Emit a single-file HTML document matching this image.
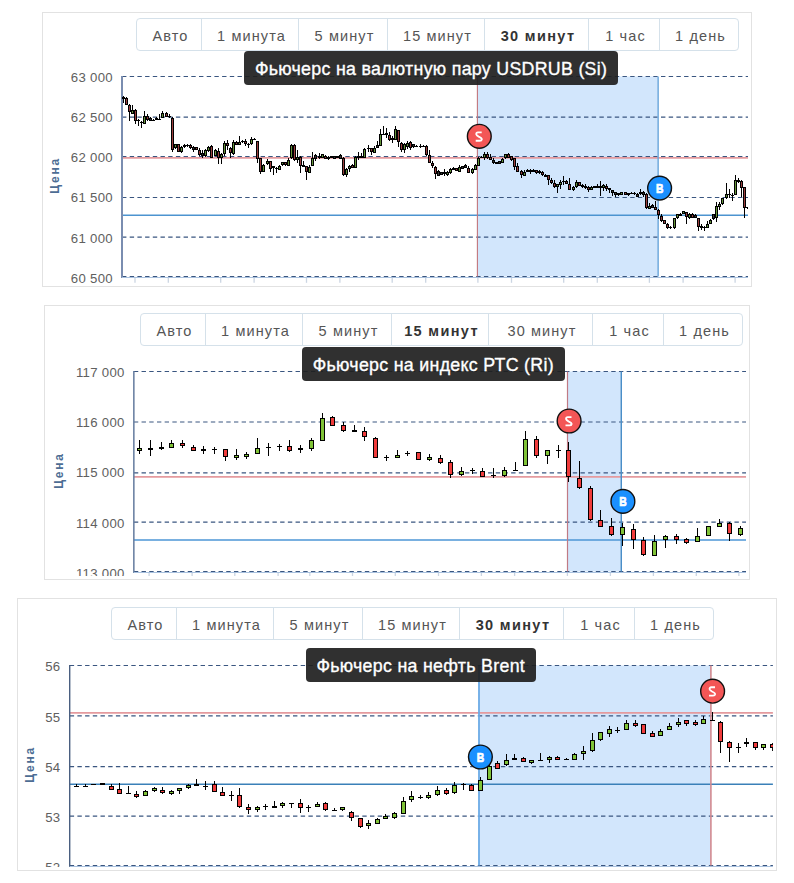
<!DOCTYPE html><html><head><meta charset="utf-8"><style>
*{margin:0;padding:0;box-sizing:border-box}
html,body{width:794px;height:883px;background:#fff;overflow:hidden;position:relative;font-family:"Liberation Sans", sans-serif}
.panel{position:absolute;border:1px solid #e2e2e2;background:#fff}
.grp{position:absolute;border:1px solid #d5e1ea;border-radius:4px;background:#fff;display:flex}
.btn{height:100%;border-right:1px solid #d5e1ea;color:#555;font-size:14.5px;letter-spacing:1.1px;display:flex;align-items:center;justify-content:center;padding:2px 0 0 3px;white-space:nowrap}
.btn:last-child{border-right:none}
.btn.sel{font-weight:bold;color:#333;letter-spacing:1.35px}
.ttl{position:absolute;background:rgba(30,30,30,0.92);border-radius:4px;color:#fff;font-size:17.8px;display:flex;align-items:center;justify-content:center;letter-spacing:0.3px;padding-top:2px;white-space:nowrap;-webkit-text-stroke:0.35px #fff}
svg{position:absolute;left:0;top:0}

</style></head><body>
<div class="panel" style="left:42px;top:12px;width:710px;height:275px"></div>
<div class="grp" style="left:136px;top:18px;width:603px;height:33px">
<div class="btn" style="width:65px">Авто</div>
<div class="btn" style="width:97px">1 минута</div>
<div class="btn" style="width:89px">5 минут</div>
<div class="btn" style="width:97px">15 минут</div>
<div class="btn sel" style="width:104px">30 минут</div>
<div class="btn" style="width:71px">1 час</div>
<div class="btn" style="width:78px">1 день</div>
</div>
<div class="panel" style="left:44px;top:305px;width:706px;height:275px"></div>
<div class="grp" style="left:140px;top:313px;width:603px;height:33px">
<div class="btn" style="width:65px">Авто</div>
<div class="btn" style="width:97px">1 минута</div>
<div class="btn" style="width:89px">5 минут</div>
<div class="btn sel" style="width:97px">15 минут</div>
<div class="btn" style="width:104px">30 минут</div>
<div class="btn" style="width:71px">1 час</div>
<div class="btn" style="width:78px">1 день</div>
</div>
<div class="panel" style="left:17px;top:598px;width:760px;height:273px"></div>
<div class="grp" style="left:111px;top:607px;width:603px;height:33px">
<div class="btn" style="width:65px">Авто</div>
<div class="btn" style="width:97px">1 минута</div>
<div class="btn" style="width:89px">5 минут</div>
<div class="btn" style="width:97px">15 минут</div>
<div class="btn sel" style="width:104px">30 минут</div>
<div class="btn" style="width:71px">1 час</div>
<div class="btn" style="width:78px">1 день</div>
</div>
<svg width="794" height="883" viewBox="0 0 794 883">
<defs><clipPath id="c0"><rect x="122" y="36.5" width="626" height="247.5"/></clipPath><clipPath id="cb0"><rect x="0" y="36.5" width="794" height="247.5"/></clipPath></defs>
<rect x="477.9" y="76.5" width="179.5" height="200.0" fill="#d2e6fc"/>
<line x1="122" y1="76.5" x2="748" y2="76.5" stroke="#3a5680" stroke-width="1.2" stroke-dasharray="4.4 3.3"/>
<line x1="122" y1="117.1" x2="748" y2="117.1" stroke="#3a5680" stroke-width="1.2" stroke-dasharray="4.4 3.3"/>
<line x1="122" y1="156.6" x2="748" y2="156.6" stroke="#3a5680" stroke-width="1.2" stroke-dasharray="4.4 3.3"/>
<line x1="122" y1="197.5" x2="748" y2="197.5" stroke="#3a5680" stroke-width="1.2" stroke-dasharray="4.4 3.3"/>
<line x1="122" y1="237.1" x2="748" y2="237.1" stroke="#3a5680" stroke-width="1.2" stroke-dasharray="4.4 3.3"/>
<line x1="122" y1="276.5" x2="748" y2="276.5" stroke="#3a5680" stroke-width="1.2" stroke-dasharray="4.4 3.3"/>
<line x1="135.0" y1="277.5" x2="135.0" y2="282.8" stroke="#cbd5e2" stroke-width="1.3" clip-path="url(#cb0)"/>
<line x1="220.7" y1="277.5" x2="220.7" y2="282.8" stroke="#cbd5e2" stroke-width="1.3" clip-path="url(#cb0)"/>
<line x1="306.5" y1="277.5" x2="306.5" y2="282.8" stroke="#cbd5e2" stroke-width="1.3" clip-path="url(#cb0)"/>
<line x1="392.2" y1="277.5" x2="392.2" y2="282.8" stroke="#cbd5e2" stroke-width="1.3" clip-path="url(#cb0)"/>
<line x1="477.9" y1="277.5" x2="477.9" y2="282.8" stroke="#cbd5e2" stroke-width="1.3" clip-path="url(#cb0)"/>
<line x1="563.7" y1="277.5" x2="563.7" y2="282.8" stroke="#cbd5e2" stroke-width="1.3" clip-path="url(#cb0)"/>
<line x1="649.4" y1="277.5" x2="649.4" y2="282.8" stroke="#cbd5e2" stroke-width="1.3" clip-path="url(#cb0)"/>
<line x1="735.1" y1="277.5" x2="735.1" y2="282.8" stroke="#cbd5e2" stroke-width="1.3" clip-path="url(#cb0)"/>
<line x1="168.3" y1="277.5" x2="168.3" y2="282.8" stroke="#cbd5e2" stroke-width="1.3" clip-path="url(#cb0)"/>
<line x1="254.1" y1="277.5" x2="254.1" y2="282.8" stroke="#cbd5e2" stroke-width="1.3" clip-path="url(#cb0)"/>
<line x1="339.9" y1="277.5" x2="339.9" y2="282.8" stroke="#cbd5e2" stroke-width="1.3" clip-path="url(#cb0)"/>
<line x1="425.7" y1="277.5" x2="425.7" y2="282.8" stroke="#cbd5e2" stroke-width="1.3" clip-path="url(#cb0)"/>
<line x1="511.5" y1="277.5" x2="511.5" y2="282.8" stroke="#cbd5e2" stroke-width="1.3" clip-path="url(#cb0)"/>
<line x1="597.3" y1="277.5" x2="597.3" y2="282.8" stroke="#cbd5e2" stroke-width="1.3" clip-path="url(#cb0)"/>
<line x1="683.1" y1="277.5" x2="683.1" y2="282.8" stroke="#cbd5e2" stroke-width="1.3" clip-path="url(#cb0)"/>
<line x1="122" y1="157.8" x2="748" y2="157.8" stroke="#e49a9e" stroke-width="1.8"/>
<line x1="122" y1="215.2" x2="748" y2="215.2" stroke="#4c94d0" stroke-width="1.5"/>
<line x1="477.4" y1="76.5" x2="477.4" y2="276.5" stroke="#c0747c" stroke-width="1.1"/>
<line x1="658.1" y1="76.5" x2="658.1" y2="276.5" stroke="#6aa6dc" stroke-width="1.5"/>
<line x1="122" y1="76.0" x2="122" y2="278.0" stroke="#7a8db0" stroke-width="2"/>
<line x1="122" y1="277.5" x2="748" y2="277.5" stroke="#a9c1de" stroke-width="1"/>
<g clip-path="url(#c0)">
<line x1="123.5" y1="96" x2="123.5" y2="103" stroke="#000" stroke-width="1"/>
<rect x="122" y="97" width="3" height="2" fill="#000"/>
<line x1="126.5" y1="97" x2="126.5" y2="105" stroke="#000" stroke-width="1"/>
<rect x="125.5" y="98.5" width="2" height="6" fill="#9a3d3d" stroke="#000" stroke-width="1"/>
<line x1="129.5" y1="104" x2="129.5" y2="121" stroke="#000" stroke-width="1"/>
<rect x="128.5" y="105.5" width="2" height="6" fill="#9a3d3d" stroke="#000" stroke-width="1"/>
<line x1="132.5" y1="105" x2="132.5" y2="114" stroke="#000" stroke-width="1"/>
<rect x="131.5" y="110.5" width="2" height="3" fill="#64953a" stroke="#000" stroke-width="1"/>
<line x1="135.5" y1="109" x2="135.5" y2="124" stroke="#000" stroke-width="1"/>
<rect x="134.5" y="110.5" width="2" height="10" fill="#9a3d3d" stroke="#000" stroke-width="1"/>
<line x1="138.5" y1="119" x2="138.5" y2="126" stroke="#000" stroke-width="1"/>
<rect x="137" y="120" width="3" height="1" fill="#000"/>
<line x1="141.5" y1="121" x2="141.5" y2="128" stroke="#000" stroke-width="1"/>
<rect x="140" y="122" width="3" height="1" fill="#000"/>
<line x1="144.5" y1="111" x2="144.5" y2="124" stroke="#000" stroke-width="1"/>
<rect x="143.5" y="116.5" width="2" height="7" fill="#64953a" stroke="#000" stroke-width="1"/>
<line x1="147.5" y1="114" x2="147.5" y2="121" stroke="#000" stroke-width="1"/>
<rect x="146.5" y="116.5" width="2" height="3" fill="#9a3d3d" stroke="#000" stroke-width="1"/>
<line x1="150.5" y1="117" x2="150.5" y2="121" stroke="#000" stroke-width="1"/>
<rect x="149.5" y="118.5" width="2" height="2" fill="#3a3a3a" stroke="#000" stroke-width="1"/>
<line x1="153.5" y1="119" x2="153.5" y2="121" stroke="#000" stroke-width="1"/>
<rect x="152" y="120" width="3" height="1" fill="#000"/>
<line x1="156.5" y1="117" x2="156.5" y2="120" stroke="#000" stroke-width="1"/>
<rect x="155" y="118" width="3" height="2" fill="#000"/>
<line x1="159.5" y1="114" x2="159.5" y2="120" stroke="#000" stroke-width="1"/>
<rect x="158" y="119" width="3" height="1" fill="#000"/>
<line x1="162.5" y1="111" x2="162.5" y2="118" stroke="#000" stroke-width="1"/>
<rect x="161.5" y="113.5" width="2" height="4" fill="#64953a" stroke="#000" stroke-width="1"/>
<line x1="166.5" y1="112" x2="166.5" y2="117" stroke="#000" stroke-width="1"/>
<rect x="165.5" y="113.5" width="2" height="3" fill="#9a3d3d" stroke="#000" stroke-width="1"/>
<line x1="169.5" y1="114" x2="169.5" y2="118" stroke="#000" stroke-width="1"/>
<rect x="168" y="116" width="3" height="1" fill="#000"/>
<line x1="172.5" y1="117" x2="172.5" y2="152" stroke="#000" stroke-width="1"/>
<rect x="171.5" y="118.5" width="2" height="31" fill="#9a3d3d" stroke="#000" stroke-width="1"/>
<line x1="175.5" y1="144" x2="175.5" y2="149" stroke="#000" stroke-width="1"/>
<rect x="174.5" y="144.5" width="2" height="3" fill="#64953a" stroke="#000" stroke-width="1"/>
<rect x="177.5" y="144.5" width="2" height="7" fill="#9a3d3d" stroke="#000" stroke-width="1"/>
<line x1="181.5" y1="146" x2="181.5" y2="153" stroke="#000" stroke-width="1"/>
<rect x="180.5" y="147.5" width="2" height="4" fill="#64953a" stroke="#000" stroke-width="1"/>
<line x1="184.5" y1="144" x2="184.5" y2="148" stroke="#000" stroke-width="1"/>
<rect x="183" y="145" width="3" height="2" fill="#000"/>
<line x1="187.5" y1="144" x2="187.5" y2="147" stroke="#000" stroke-width="1"/>
<rect x="186" y="145" width="3" height="1" fill="#000"/>
<line x1="190.5" y1="144" x2="190.5" y2="149" stroke="#000" stroke-width="1"/>
<rect x="189.5" y="145.5" width="2" height="2" fill="#9a3d3d" stroke="#000" stroke-width="1"/>
<line x1="193.5" y1="146" x2="193.5" y2="152" stroke="#000" stroke-width="1"/>
<rect x="192.5" y="147.5" width="2" height="2" fill="#3a3a3a" stroke="#000" stroke-width="1"/>
<rect x="195.5" y="147.5" width="2" height="2" fill="#9a3d3d" stroke="#000" stroke-width="1"/>
<line x1="199.5" y1="148" x2="199.5" y2="156" stroke="#000" stroke-width="1"/>
<rect x="198.5" y="150.5" width="2" height="4" fill="#9a3d3d" stroke="#000" stroke-width="1"/>
<line x1="202.5" y1="150" x2="202.5" y2="158" stroke="#000" stroke-width="1"/>
<rect x="201.5" y="153.5" width="2" height="2" fill="#3a3a3a" stroke="#000" stroke-width="1"/>
<line x1="205.5" y1="149" x2="205.5" y2="157" stroke="#000" stroke-width="1"/>
<rect x="204.5" y="150.5" width="2" height="5" fill="#64953a" stroke="#000" stroke-width="1"/>
<line x1="208.5" y1="146" x2="208.5" y2="152" stroke="#000" stroke-width="1"/>
<rect x="207.5" y="147.5" width="2" height="3" fill="#64953a" stroke="#000" stroke-width="1"/>
<line x1="211.5" y1="145" x2="211.5" y2="158" stroke="#000" stroke-width="1"/>
<rect x="210.5" y="146.5" width="2" height="11" fill="#9a3d3d" stroke="#000" stroke-width="1"/>
<line x1="215.5" y1="149" x2="215.5" y2="156" stroke="#000" stroke-width="1"/>
<rect x="214.5" y="150.5" width="2" height="5" fill="#64953a" stroke="#000" stroke-width="1"/>
<line x1="218.5" y1="148" x2="218.5" y2="164" stroke="#000" stroke-width="1"/>
<rect x="217.5" y="151.5" width="2" height="6" fill="#9a3d3d" stroke="#000" stroke-width="1"/>
<line x1="221.5" y1="153" x2="221.5" y2="164" stroke="#000" stroke-width="1"/>
<rect x="220.5" y="154.5" width="2" height="3" fill="#64953a" stroke="#000" stroke-width="1"/>
<line x1="224.5" y1="141" x2="224.5" y2="156" stroke="#000" stroke-width="1"/>
<rect x="223.5" y="143.5" width="2" height="10" fill="#64953a" stroke="#000" stroke-width="1"/>
<line x1="227.5" y1="140" x2="227.5" y2="150" stroke="#000" stroke-width="1"/>
<rect x="226.5" y="143.5" width="2" height="2" fill="#9a3d3d" stroke="#000" stroke-width="1"/>
<line x1="230.5" y1="147" x2="230.5" y2="158" stroke="#000" stroke-width="1"/>
<rect x="229.5" y="148.5" width="2" height="4" fill="#9a3d3d" stroke="#000" stroke-width="1"/>
<line x1="233.5" y1="140" x2="233.5" y2="155" stroke="#000" stroke-width="1"/>
<rect x="232.5" y="142.5" width="2" height="11" fill="#64953a" stroke="#000" stroke-width="1"/>
<line x1="236.5" y1="141" x2="236.5" y2="145" stroke="#000" stroke-width="1"/>
<rect x="235.5" y="142.5" width="2" height="2" fill="#9a3d3d" stroke="#000" stroke-width="1"/>
<line x1="239.5" y1="136" x2="239.5" y2="145" stroke="#000" stroke-width="1"/>
<rect x="238.5" y="142.5" width="2" height="2" fill="#64953a" stroke="#000" stroke-width="1"/>
<line x1="242.5" y1="140" x2="242.5" y2="143" stroke="#000" stroke-width="1"/>
<rect x="241" y="141" width="3" height="1" fill="#000"/>
<line x1="245.5" y1="139" x2="245.5" y2="146" stroke="#000" stroke-width="1"/>
<rect x="244.5" y="141.5" width="2" height="2" fill="#9a3d3d" stroke="#000" stroke-width="1"/>
<line x1="248.5" y1="143" x2="248.5" y2="148" stroke="#000" stroke-width="1"/>
<rect x="247" y="144" width="3" height="1" fill="#000"/>
<line x1="251.5" y1="137" x2="251.5" y2="145" stroke="#000" stroke-width="1"/>
<rect x="250.5" y="139.5" width="2" height="4" fill="#64953a" stroke="#000" stroke-width="1"/>
<line x1="254.5" y1="138" x2="254.5" y2="140" stroke="#000" stroke-width="1"/>
<rect x="253" y="139" width="3" height="1" fill="#000"/>
<line x1="257.5" y1="141" x2="257.5" y2="163" stroke="#000" stroke-width="1"/>
<rect x="256.5" y="141.5" width="2" height="17" fill="#9a3d3d" stroke="#000" stroke-width="1"/>
<line x1="260.5" y1="158" x2="260.5" y2="174" stroke="#000" stroke-width="1"/>
<rect x="259.5" y="158.5" width="2" height="13" fill="#9a3d3d" stroke="#000" stroke-width="1"/>
<line x1="263.5" y1="164" x2="263.5" y2="172" stroke="#000" stroke-width="1"/>
<rect x="262.5" y="165.5" width="2" height="6" fill="#64953a" stroke="#000" stroke-width="1"/>
<line x1="267.5" y1="159" x2="267.5" y2="165" stroke="#000" stroke-width="1"/>
<rect x="266.5" y="161.5" width="2" height="2" fill="#64953a" stroke="#000" stroke-width="1"/>
<line x1="270.5" y1="161" x2="270.5" y2="172" stroke="#000" stroke-width="1"/>
<rect x="269.5" y="161.5" width="2" height="7" fill="#9a3d3d" stroke="#000" stroke-width="1"/>
<line x1="273.5" y1="166" x2="273.5" y2="175" stroke="#000" stroke-width="1"/>
<rect x="272" y="166" width="3" height="2" fill="#000"/>
<line x1="276.5" y1="167" x2="276.5" y2="173" stroke="#000" stroke-width="1"/>
<rect x="275" y="168" width="3" height="1" fill="#000"/>
<line x1="279.5" y1="165" x2="279.5" y2="170" stroke="#000" stroke-width="1"/>
<rect x="278.5" y="166.5" width="2" height="3" fill="#64953a" stroke="#000" stroke-width="1"/>
<line x1="282.5" y1="162" x2="282.5" y2="166" stroke="#000" stroke-width="1"/>
<rect x="281.5" y="162.5" width="2" height="2" fill="#64953a" stroke="#000" stroke-width="1"/>
<line x1="285.5" y1="162" x2="285.5" y2="166" stroke="#000" stroke-width="1"/>
<rect x="284.5" y="162.5" width="2" height="2" fill="#9a3d3d" stroke="#000" stroke-width="1"/>
<line x1="288.5" y1="158" x2="288.5" y2="166" stroke="#000" stroke-width="1"/>
<rect x="287.5" y="160.5" width="2" height="5" fill="#64953a" stroke="#000" stroke-width="1"/>
<line x1="291.5" y1="144" x2="291.5" y2="159" stroke="#000" stroke-width="1"/>
<rect x="290.5" y="145.5" width="2" height="12" fill="#64953a" stroke="#000" stroke-width="1"/>
<line x1="294.5" y1="144" x2="294.5" y2="161" stroke="#000" stroke-width="1"/>
<rect x="293.5" y="145.5" width="2" height="14" fill="#9a3d3d" stroke="#000" stroke-width="1"/>
<line x1="297.5" y1="150" x2="297.5" y2="163" stroke="#000" stroke-width="1"/>
<rect x="296.5" y="157.5" width="2" height="2" fill="#64953a" stroke="#000" stroke-width="1"/>
<line x1="300.5" y1="156" x2="300.5" y2="173" stroke="#000" stroke-width="1"/>
<rect x="299.5" y="157.5" width="2" height="8" fill="#9a3d3d" stroke="#000" stroke-width="1"/>
<line x1="303.5" y1="161" x2="303.5" y2="167" stroke="#000" stroke-width="1"/>
<rect x="302" y="165" width="3" height="2" fill="#000"/>
<line x1="306.5" y1="166" x2="306.5" y2="180" stroke="#000" stroke-width="1"/>
<rect x="305.5" y="166.5" width="2" height="5" fill="#9a3d3d" stroke="#000" stroke-width="1"/>
<line x1="309.5" y1="165" x2="309.5" y2="173" stroke="#000" stroke-width="1"/>
<rect x="308.5" y="167.5" width="2" height="5" fill="#64953a" stroke="#000" stroke-width="1"/>
<line x1="312.5" y1="152" x2="312.5" y2="166" stroke="#000" stroke-width="1"/>
<rect x="311.5" y="158.5" width="2" height="7" fill="#64953a" stroke="#000" stroke-width="1"/>
<line x1="315.5" y1="154" x2="315.5" y2="161" stroke="#000" stroke-width="1"/>
<rect x="314.5" y="155.5" width="2" height="3" fill="#3a3a3a" stroke="#000" stroke-width="1"/>
<line x1="319.5" y1="153" x2="319.5" y2="159" stroke="#000" stroke-width="1"/>
<rect x="318" y="156" width="3" height="2" fill="#000"/>
<rect x="321.5" y="154.5" width="2" height="3" fill="#64953a" stroke="#000" stroke-width="1"/>
<line x1="325.5" y1="155" x2="325.5" y2="159" stroke="#000" stroke-width="1"/>
<rect x="324.5" y="156.5" width="2" height="2" fill="#9a3d3d" stroke="#000" stroke-width="1"/>
<line x1="328.5" y1="156" x2="328.5" y2="160" stroke="#000" stroke-width="1"/>
<rect x="327" y="157" width="3" height="2" fill="#000"/>
<rect x="330" y="156" width="3" height="2" fill="#000"/>
<rect x="333.5" y="156.5" width="2" height="2" fill="#3a3a3a" stroke="#000" stroke-width="1"/>
<rect x="336" y="156" width="3" height="2" fill="#000"/>
<line x1="340.5" y1="154" x2="340.5" y2="159" stroke="#000" stroke-width="1"/>
<rect x="339.5" y="155.5" width="2" height="3" fill="#3a3a3a" stroke="#000" stroke-width="1"/>
<line x1="343.5" y1="157" x2="343.5" y2="176" stroke="#000" stroke-width="1"/>
<rect x="342.5" y="158.5" width="2" height="16" fill="#9a3d3d" stroke="#000" stroke-width="1"/>
<line x1="346.5" y1="168" x2="346.5" y2="177" stroke="#000" stroke-width="1"/>
<rect x="345.5" y="169.5" width="2" height="5" fill="#64953a" stroke="#000" stroke-width="1"/>
<line x1="349.5" y1="165" x2="349.5" y2="172" stroke="#000" stroke-width="1"/>
<rect x="348.5" y="166.5" width="2" height="2" fill="#64953a" stroke="#000" stroke-width="1"/>
<line x1="352.5" y1="164" x2="352.5" y2="168" stroke="#000" stroke-width="1"/>
<rect x="351.5" y="165.5" width="2" height="2" fill="#9a3d3d" stroke="#000" stroke-width="1"/>
<line x1="355.5" y1="156" x2="355.5" y2="168" stroke="#000" stroke-width="1"/>
<rect x="354.5" y="157.5" width="2" height="10" fill="#64953a" stroke="#000" stroke-width="1"/>
<line x1="358.5" y1="152" x2="358.5" y2="160" stroke="#000" stroke-width="1"/>
<rect x="357" y="156" width="3" height="2" fill="#000"/>
<line x1="361.5" y1="153" x2="361.5" y2="158" stroke="#000" stroke-width="1"/>
<rect x="360" y="156" width="3" height="2" fill="#000"/>
<line x1="364.5" y1="148" x2="364.5" y2="158" stroke="#000" stroke-width="1"/>
<rect x="363.5" y="149.5" width="2" height="8" fill="#64953a" stroke="#000" stroke-width="1"/>
<line x1="368.5" y1="145" x2="368.5" y2="152" stroke="#000" stroke-width="1"/>
<rect x="367" y="148" width="3" height="1" fill="#000"/>
<line x1="371.5" y1="148" x2="371.5" y2="155" stroke="#000" stroke-width="1"/>
<rect x="370.5" y="148.5" width="2" height="3" fill="#9a3d3d" stroke="#000" stroke-width="1"/>
<line x1="374.5" y1="146" x2="374.5" y2="153" stroke="#000" stroke-width="1"/>
<rect x="373.5" y="148.5" width="2" height="4" fill="#64953a" stroke="#000" stroke-width="1"/>
<line x1="377.5" y1="141" x2="377.5" y2="148" stroke="#000" stroke-width="1"/>
<rect x="376.5" y="145.5" width="2" height="2" fill="#3a3a3a" stroke="#000" stroke-width="1"/>
<line x1="380.5" y1="129" x2="380.5" y2="146" stroke="#000" stroke-width="1"/>
<rect x="379.5" y="134.5" width="2" height="11" fill="#64953a" stroke="#000" stroke-width="1"/>
<line x1="383.5" y1="126" x2="383.5" y2="135" stroke="#000" stroke-width="1"/>
<rect x="382" y="134" width="3" height="1" fill="#000"/>
<line x1="386.5" y1="128" x2="386.5" y2="138" stroke="#000" stroke-width="1"/>
<rect x="385" y="133" width="3" height="2" fill="#000"/>
<line x1="389.5" y1="132" x2="389.5" y2="141" stroke="#000" stroke-width="1"/>
<rect x="388.5" y="135.5" width="2" height="4" fill="#9a3d3d" stroke="#000" stroke-width="1"/>
<line x1="392.5" y1="136" x2="392.5" y2="143" stroke="#000" stroke-width="1"/>
<rect x="391" y="138" width="3" height="2" fill="#000"/>
<line x1="395.5" y1="126" x2="395.5" y2="140" stroke="#000" stroke-width="1"/>
<rect x="394.5" y="129.5" width="2" height="10" fill="#64953a" stroke="#000" stroke-width="1"/>
<line x1="398.5" y1="130" x2="398.5" y2="147" stroke="#000" stroke-width="1"/>
<rect x="397.5" y="130.5" width="2" height="11" fill="#9a3d3d" stroke="#000" stroke-width="1"/>
<line x1="401.5" y1="142" x2="401.5" y2="152" stroke="#000" stroke-width="1"/>
<rect x="400.5" y="143.5" width="2" height="6" fill="#9a3d3d" stroke="#000" stroke-width="1"/>
<line x1="404.5" y1="143" x2="404.5" y2="153" stroke="#000" stroke-width="1"/>
<rect x="403.5" y="144.5" width="2" height="5" fill="#64953a" stroke="#000" stroke-width="1"/>
<line x1="407.5" y1="141" x2="407.5" y2="149" stroke="#000" stroke-width="1"/>
<rect x="406.5" y="143.5" width="2" height="3" fill="#64953a" stroke="#000" stroke-width="1"/>
<line x1="410.5" y1="141" x2="410.5" y2="150" stroke="#000" stroke-width="1"/>
<rect x="409.5" y="142.5" width="2" height="5" fill="#9a3d3d" stroke="#000" stroke-width="1"/>
<line x1="413.5" y1="144" x2="413.5" y2="148" stroke="#000" stroke-width="1"/>
<rect x="412.5" y="144.5" width="2" height="2" fill="#3a3a3a" stroke="#000" stroke-width="1"/>
<line x1="416.5" y1="145" x2="416.5" y2="147" stroke="#000" stroke-width="1"/>
<rect x="415" y="146" width="3" height="1" fill="#000"/>
<line x1="420.5" y1="144" x2="420.5" y2="148" stroke="#000" stroke-width="1"/>
<rect x="419" y="146" width="3" height="1" fill="#000"/>
<line x1="423.5" y1="145" x2="423.5" y2="147" stroke="#000" stroke-width="1"/>
<rect x="422" y="146" width="3" height="1" fill="#000"/>
<line x1="426.5" y1="145" x2="426.5" y2="156" stroke="#000" stroke-width="1"/>
<rect x="425.5" y="146.5" width="2" height="8" fill="#9a3d3d" stroke="#000" stroke-width="1"/>
<line x1="429.5" y1="150" x2="429.5" y2="163" stroke="#000" stroke-width="1"/>
<rect x="428.5" y="155.5" width="2" height="7" fill="#9a3d3d" stroke="#000" stroke-width="1"/>
<line x1="432.5" y1="161" x2="432.5" y2="168" stroke="#000" stroke-width="1"/>
<rect x="431.5" y="163.5" width="2" height="2" fill="#9a3d3d" stroke="#000" stroke-width="1"/>
<line x1="435.5" y1="166" x2="435.5" y2="179" stroke="#000" stroke-width="1"/>
<rect x="434.5" y="167.5" width="2" height="6" fill="#9a3d3d" stroke="#000" stroke-width="1"/>
<line x1="438.5" y1="170" x2="438.5" y2="176" stroke="#000" stroke-width="1"/>
<rect x="437.5" y="171.5" width="2" height="4" fill="#3a3a3a" stroke="#000" stroke-width="1"/>
<rect x="440.5" y="172.5" width="2" height="2" fill="#3a3a3a" stroke="#000" stroke-width="1"/>
<line x1="444.5" y1="169" x2="444.5" y2="176" stroke="#000" stroke-width="1"/>
<rect x="443" y="172" width="3" height="2" fill="#000"/>
<line x1="447.5" y1="171" x2="447.5" y2="176" stroke="#000" stroke-width="1"/>
<rect x="446.5" y="172.5" width="2" height="2" fill="#64953a" stroke="#000" stroke-width="1"/>
<line x1="450.5" y1="168" x2="450.5" y2="174" stroke="#000" stroke-width="1"/>
<rect x="449.5" y="169.5" width="2" height="3" fill="#64953a" stroke="#000" stroke-width="1"/>
<line x1="453.5" y1="167" x2="453.5" y2="170" stroke="#000" stroke-width="1"/>
<rect x="452" y="168" width="3" height="2" fill="#000"/>
<rect x="455.5" y="168.5" width="2" height="2" fill="#9a3d3d" stroke="#000" stroke-width="1"/>
<line x1="459.5" y1="165" x2="459.5" y2="172" stroke="#000" stroke-width="1"/>
<rect x="458.5" y="167.5" width="2" height="4" fill="#64953a" stroke="#000" stroke-width="1"/>
<rect x="461.5" y="166.5" width="2" height="2" fill="#3a3a3a" stroke="#000" stroke-width="1"/>
<line x1="465.5" y1="164" x2="465.5" y2="168" stroke="#000" stroke-width="1"/>
<rect x="464.5" y="165.5" width="2" height="2" fill="#3a3a3a" stroke="#000" stroke-width="1"/>
<line x1="468.5" y1="166" x2="468.5" y2="173" stroke="#000" stroke-width="1"/>
<rect x="467.5" y="168.5" width="2" height="4" fill="#9a3d3d" stroke="#000" stroke-width="1"/>
<line x1="472.5" y1="168" x2="472.5" y2="174" stroke="#000" stroke-width="1"/>
<rect x="471.5" y="169.5" width="2" height="3" fill="#64953a" stroke="#000" stroke-width="1"/>
<line x1="475.5" y1="164" x2="475.5" y2="170" stroke="#000" stroke-width="1"/>
<rect x="474.5" y="165.5" width="2" height="4" fill="#64953a" stroke="#000" stroke-width="1"/>
<line x1="478.5" y1="157" x2="478.5" y2="166" stroke="#000" stroke-width="1"/>
<rect x="477.5" y="158.5" width="2" height="7" fill="#64953a" stroke="#000" stroke-width="1"/>
<line x1="481.5" y1="156" x2="481.5" y2="158" stroke="#000" stroke-width="1"/>
<rect x="480" y="157" width="3" height="1" fill="#000"/>
<line x1="484.5" y1="152" x2="484.5" y2="160" stroke="#000" stroke-width="1"/>
<rect x="483.5" y="154.5" width="2" height="3" fill="#64953a" stroke="#000" stroke-width="1"/>
<line x1="487.5" y1="152" x2="487.5" y2="159" stroke="#000" stroke-width="1"/>
<rect x="486.5" y="154.5" width="2" height="3" fill="#9a3d3d" stroke="#000" stroke-width="1"/>
<line x1="490.5" y1="154" x2="490.5" y2="160" stroke="#000" stroke-width="1"/>
<rect x="489.5" y="157.5" width="2" height="2" fill="#9a3d3d" stroke="#000" stroke-width="1"/>
<line x1="493.5" y1="158" x2="493.5" y2="164" stroke="#000" stroke-width="1"/>
<rect x="492.5" y="160.5" width="2" height="2" fill="#3a3a3a" stroke="#000" stroke-width="1"/>
<rect x="495" y="162" width="3" height="2" fill="#000"/>
<rect x="498.5" y="161.5" width="2" height="2" fill="#3a3a3a" stroke="#000" stroke-width="1"/>
<line x1="502.5" y1="158" x2="502.5" y2="163" stroke="#000" stroke-width="1"/>
<rect x="501.5" y="159.5" width="2" height="3" fill="#64953a" stroke="#000" stroke-width="1"/>
<line x1="505.5" y1="154" x2="505.5" y2="159" stroke="#000" stroke-width="1"/>
<rect x="504.5" y="154.5" width="2" height="3" fill="#64953a" stroke="#000" stroke-width="1"/>
<line x1="508.5" y1="153" x2="508.5" y2="158" stroke="#000" stroke-width="1"/>
<rect x="507.5" y="154.5" width="2" height="3" fill="#9a3d3d" stroke="#000" stroke-width="1"/>
<line x1="511.5" y1="156" x2="511.5" y2="161" stroke="#000" stroke-width="1"/>
<rect x="510.5" y="156.5" width="2" height="3" fill="#9a3d3d" stroke="#000" stroke-width="1"/>
<line x1="514.5" y1="158" x2="514.5" y2="170" stroke="#000" stroke-width="1"/>
<rect x="513.5" y="158.5" width="2" height="8" fill="#9a3d3d" stroke="#000" stroke-width="1"/>
<line x1="517.5" y1="163" x2="517.5" y2="172" stroke="#000" stroke-width="1"/>
<rect x="516.5" y="166.5" width="2" height="5" fill="#9a3d3d" stroke="#000" stroke-width="1"/>
<line x1="521.5" y1="170" x2="521.5" y2="178" stroke="#000" stroke-width="1"/>
<rect x="520.5" y="171.5" width="2" height="3" fill="#9a3d3d" stroke="#000" stroke-width="1"/>
<line x1="524.5" y1="170" x2="524.5" y2="176" stroke="#000" stroke-width="1"/>
<rect x="523.5" y="172.5" width="2" height="3" fill="#64953a" stroke="#000" stroke-width="1"/>
<line x1="527.5" y1="169" x2="527.5" y2="172" stroke="#000" stroke-width="1"/>
<rect x="526" y="170" width="3" height="2" fill="#000"/>
<line x1="530.5" y1="169" x2="530.5" y2="174" stroke="#000" stroke-width="1"/>
<rect x="529" y="170" width="3" height="2" fill="#000"/>
<line x1="533.5" y1="169" x2="533.5" y2="172" stroke="#000" stroke-width="1"/>
<rect x="532" y="170" width="3" height="2" fill="#000"/>
<line x1="536.5" y1="170" x2="536.5" y2="174" stroke="#000" stroke-width="1"/>
<rect x="535.5" y="170.5" width="2" height="2" fill="#9a3d3d" stroke="#000" stroke-width="1"/>
<line x1="539.5" y1="170" x2="539.5" y2="174" stroke="#000" stroke-width="1"/>
<rect x="538" y="171" width="3" height="2" fill="#000"/>
<line x1="542.5" y1="171" x2="542.5" y2="176" stroke="#000" stroke-width="1"/>
<rect x="541.5" y="172.5" width="2" height="2" fill="#9a3d3d" stroke="#000" stroke-width="1"/>
<line x1="545.5" y1="174" x2="545.5" y2="177" stroke="#000" stroke-width="1"/>
<rect x="544" y="175" width="3" height="2" fill="#000"/>
<line x1="548.5" y1="175" x2="548.5" y2="185" stroke="#000" stroke-width="1"/>
<rect x="547.5" y="175.5" width="2" height="4" fill="#9a3d3d" stroke="#000" stroke-width="1"/>
<line x1="551.5" y1="178" x2="551.5" y2="184" stroke="#000" stroke-width="1"/>
<rect x="550.5" y="180.5" width="2" height="2" fill="#9a3d3d" stroke="#000" stroke-width="1"/>
<line x1="554.5" y1="180" x2="554.5" y2="188" stroke="#000" stroke-width="1"/>
<rect x="553.5" y="183.5" width="2" height="3" fill="#9a3d3d" stroke="#000" stroke-width="1"/>
<line x1="557.5" y1="184" x2="557.5" y2="193" stroke="#000" stroke-width="1"/>
<rect x="556.5" y="184.5" width="2" height="2" fill="#64953a" stroke="#000" stroke-width="1"/>
<line x1="560.5" y1="180" x2="560.5" y2="189" stroke="#000" stroke-width="1"/>
<rect x="559.5" y="182.5" width="2" height="2" fill="#64953a" stroke="#000" stroke-width="1"/>
<line x1="563.5" y1="176" x2="563.5" y2="185" stroke="#000" stroke-width="1"/>
<rect x="562" y="181" width="3" height="1" fill="#000"/>
<line x1="566.5" y1="180" x2="566.5" y2="184" stroke="#000" stroke-width="1"/>
<rect x="565.5" y="181.5" width="2" height="2" fill="#9a3d3d" stroke="#000" stroke-width="1"/>
<line x1="569.5" y1="178" x2="569.5" y2="190" stroke="#000" stroke-width="1"/>
<rect x="568.5" y="184.5" width="2" height="5" fill="#9a3d3d" stroke="#000" stroke-width="1"/>
<line x1="573.5" y1="186" x2="573.5" y2="191" stroke="#000" stroke-width="1"/>
<rect x="572.5" y="187.5" width="2" height="2" fill="#64953a" stroke="#000" stroke-width="1"/>
<line x1="576.5" y1="180" x2="576.5" y2="188" stroke="#000" stroke-width="1"/>
<rect x="575.5" y="182.5" width="2" height="4" fill="#64953a" stroke="#000" stroke-width="1"/>
<rect x="578.5" y="182.5" width="2" height="3" fill="#9a3d3d" stroke="#000" stroke-width="1"/>
<line x1="582.5" y1="184" x2="582.5" y2="188" stroke="#000" stroke-width="1"/>
<rect x="581" y="185" width="3" height="2" fill="#000"/>
<line x1="585.5" y1="184" x2="585.5" y2="189" stroke="#000" stroke-width="1"/>
<rect x="584" y="186" width="3" height="2" fill="#000"/>
<line x1="588.5" y1="186" x2="588.5" y2="192" stroke="#000" stroke-width="1"/>
<rect x="587.5" y="187.5" width="2" height="2" fill="#9a3d3d" stroke="#000" stroke-width="1"/>
<line x1="591.5" y1="186" x2="591.5" y2="190" stroke="#000" stroke-width="1"/>
<rect x="590.5" y="187.5" width="2" height="2" fill="#64953a" stroke="#000" stroke-width="1"/>
<rect x="593" y="186" width="3" height="2" fill="#000"/>
<line x1="597.5" y1="184" x2="597.5" y2="188" stroke="#000" stroke-width="1"/>
<rect x="596" y="186" width="3" height="2" fill="#000"/>
<line x1="600.5" y1="181" x2="600.5" y2="196" stroke="#000" stroke-width="1"/>
<rect x="599" y="186" width="3" height="2" fill="#000"/>
<line x1="603.5" y1="184" x2="603.5" y2="191" stroke="#000" stroke-width="1"/>
<rect x="602.5" y="185.5" width="2" height="2" fill="#64953a" stroke="#000" stroke-width="1"/>
<line x1="606.5" y1="184" x2="606.5" y2="191" stroke="#000" stroke-width="1"/>
<rect x="605.5" y="186.5" width="2" height="2" fill="#9a3d3d" stroke="#000" stroke-width="1"/>
<line x1="609.5" y1="188" x2="609.5" y2="193" stroke="#000" stroke-width="1"/>
<rect x="608" y="188" width="3" height="2" fill="#000"/>
<line x1="612.5" y1="190" x2="612.5" y2="196" stroke="#000" stroke-width="1"/>
<rect x="611.5" y="190.5" width="2" height="2" fill="#3a3a3a" stroke="#000" stroke-width="1"/>
<line x1="615.5" y1="192" x2="615.5" y2="197" stroke="#000" stroke-width="1"/>
<rect x="614.5" y="192.5" width="2" height="2" fill="#3a3a3a" stroke="#000" stroke-width="1"/>
<line x1="618.5" y1="193" x2="618.5" y2="196" stroke="#000" stroke-width="1"/>
<rect x="617" y="193" width="3" height="2" fill="#000"/>
<rect x="620.5" y="192.5" width="2" height="2" fill="#64953a" stroke="#000" stroke-width="1"/>
<rect x="624.5" y="192.5" width="2" height="2" fill="#9a3d3d" stroke="#000" stroke-width="1"/>
<line x1="628.5" y1="193" x2="628.5" y2="196" stroke="#000" stroke-width="1"/>
<rect x="627" y="193" width="3" height="2" fill="#000"/>
<line x1="631.5" y1="192" x2="631.5" y2="194" stroke="#000" stroke-width="1"/>
<rect x="630" y="193" width="3" height="1" fill="#000"/>
<line x1="634.5" y1="192" x2="634.5" y2="195" stroke="#000" stroke-width="1"/>
<rect x="633" y="193" width="3" height="1" fill="#000"/>
<line x1="637.5" y1="193" x2="637.5" y2="197" stroke="#000" stroke-width="1"/>
<rect x="636.5" y="194.5" width="2" height="2" fill="#3a3a3a" stroke="#000" stroke-width="1"/>
<line x1="640.5" y1="189" x2="640.5" y2="195" stroke="#000" stroke-width="1"/>
<rect x="639" y="192" width="3" height="2" fill="#000"/>
<line x1="643.5" y1="191" x2="643.5" y2="197" stroke="#000" stroke-width="1"/>
<rect x="642.5" y="192.5" width="2" height="2" fill="#3a3a3a" stroke="#000" stroke-width="1"/>
<line x1="646.5" y1="193" x2="646.5" y2="209" stroke="#000" stroke-width="1"/>
<rect x="645.5" y="194.5" width="2" height="13" fill="#9a3d3d" stroke="#000" stroke-width="1"/>
<line x1="649.5" y1="203" x2="649.5" y2="209" stroke="#000" stroke-width="1"/>
<rect x="648.5" y="206.5" width="2" height="2" fill="#64953a" stroke="#000" stroke-width="1"/>
<line x1="652.5" y1="204" x2="652.5" y2="208" stroke="#000" stroke-width="1"/>
<rect x="651.5" y="205.5" width="2" height="2" fill="#3a3a3a" stroke="#000" stroke-width="1"/>
<line x1="655.5" y1="201" x2="655.5" y2="210" stroke="#000" stroke-width="1"/>
<rect x="654.5" y="207.5" width="2" height="2" fill="#9a3d3d" stroke="#000" stroke-width="1"/>
<line x1="658.5" y1="209" x2="658.5" y2="219" stroke="#000" stroke-width="1"/>
<rect x="657.5" y="210.5" width="2" height="4" fill="#9a3d3d" stroke="#000" stroke-width="1"/>
<line x1="661.5" y1="214" x2="661.5" y2="222" stroke="#000" stroke-width="1"/>
<rect x="660.5" y="216.5" width="2" height="4" fill="#9a3d3d" stroke="#000" stroke-width="1"/>
<rect x="663.5" y="220.5" width="2" height="3" fill="#9a3d3d" stroke="#000" stroke-width="1"/>
<line x1="667.5" y1="223" x2="667.5" y2="229" stroke="#000" stroke-width="1"/>
<rect x="666.5" y="224.5" width="2" height="3" fill="#9a3d3d" stroke="#000" stroke-width="1"/>
<line x1="670.5" y1="226" x2="670.5" y2="229" stroke="#000" stroke-width="1"/>
<rect x="669" y="227" width="3" height="1" fill="#000"/>
<line x1="674.5" y1="218" x2="674.5" y2="229" stroke="#000" stroke-width="1"/>
<rect x="673.5" y="218.5" width="2" height="9" fill="#64953a" stroke="#000" stroke-width="1"/>
<line x1="677.5" y1="214" x2="677.5" y2="219" stroke="#000" stroke-width="1"/>
<rect x="676.5" y="214.5" width="2" height="3" fill="#64953a" stroke="#000" stroke-width="1"/>
<line x1="680.5" y1="213" x2="680.5" y2="216" stroke="#000" stroke-width="1"/>
<rect x="679" y="214" width="3" height="2" fill="#000"/>
<rect x="682.5" y="211.5" width="2" height="2" fill="#64953a" stroke="#000" stroke-width="1"/>
<line x1="686.5" y1="212" x2="686.5" y2="224" stroke="#000" stroke-width="1"/>
<rect x="685.5" y="212.5" width="2" height="4" fill="#9a3d3d" stroke="#000" stroke-width="1"/>
<line x1="689.5" y1="213" x2="689.5" y2="219" stroke="#000" stroke-width="1"/>
<rect x="688.5" y="214.5" width="2" height="3" fill="#64953a" stroke="#000" stroke-width="1"/>
<line x1="692.5" y1="213" x2="692.5" y2="218" stroke="#000" stroke-width="1"/>
<rect x="691.5" y="214.5" width="2" height="3" fill="#9a3d3d" stroke="#000" stroke-width="1"/>
<line x1="695.5" y1="214" x2="695.5" y2="218" stroke="#000" stroke-width="1"/>
<rect x="694.5" y="215.5" width="2" height="2" fill="#3a3a3a" stroke="#000" stroke-width="1"/>
<line x1="698.5" y1="218" x2="698.5" y2="231" stroke="#000" stroke-width="1"/>
<rect x="697.5" y="218.5" width="2" height="8" fill="#9a3d3d" stroke="#000" stroke-width="1"/>
<line x1="701.5" y1="224" x2="701.5" y2="230" stroke="#000" stroke-width="1"/>
<rect x="700" y="226" width="3" height="2" fill="#000"/>
<line x1="704.5" y1="226" x2="704.5" y2="231" stroke="#000" stroke-width="1"/>
<rect x="703" y="227" width="3" height="1" fill="#000"/>
<line x1="707.5" y1="221" x2="707.5" y2="228" stroke="#000" stroke-width="1"/>
<rect x="706.5" y="224.5" width="2" height="3" fill="#64953a" stroke="#000" stroke-width="1"/>
<line x1="710.5" y1="219" x2="710.5" y2="224" stroke="#000" stroke-width="1"/>
<rect x="709.5" y="220.5" width="2" height="3" fill="#64953a" stroke="#000" stroke-width="1"/>
<line x1="713.5" y1="214" x2="713.5" y2="220" stroke="#000" stroke-width="1"/>
<rect x="712.5" y="214.5" width="2" height="4" fill="#3a3a3a" stroke="#000" stroke-width="1"/>
<line x1="716.5" y1="202" x2="716.5" y2="222" stroke="#000" stroke-width="1"/>
<rect x="715.5" y="206.5" width="2" height="11" fill="#64953a" stroke="#000" stroke-width="1"/>
<line x1="719.5" y1="202" x2="719.5" y2="210" stroke="#000" stroke-width="1"/>
<rect x="718.5" y="204.5" width="2" height="2" fill="#64953a" stroke="#000" stroke-width="1"/>
<line x1="722.5" y1="198" x2="722.5" y2="205" stroke="#000" stroke-width="1"/>
<rect x="721.5" y="198.5" width="2" height="5" fill="#64953a" stroke="#000" stroke-width="1"/>
<line x1="726.5" y1="183" x2="726.5" y2="199" stroke="#000" stroke-width="1"/>
<rect x="725.5" y="194.5" width="2" height="3" fill="#64953a" stroke="#000" stroke-width="1"/>
<line x1="729.5" y1="189" x2="729.5" y2="198" stroke="#000" stroke-width="1"/>
<rect x="728" y="194" width="3" height="1" fill="#000"/>
<line x1="732.5" y1="193" x2="732.5" y2="201" stroke="#000" stroke-width="1"/>
<rect x="731" y="195" width="3" height="1" fill="#000"/>
<line x1="735.5" y1="175" x2="735.5" y2="195" stroke="#000" stroke-width="1"/>
<rect x="734.5" y="180.5" width="2" height="14" fill="#64953a" stroke="#000" stroke-width="1"/>
<line x1="738.5" y1="178" x2="738.5" y2="183" stroke="#000" stroke-width="1"/>
<rect x="737" y="180" width="3" height="2" fill="#000"/>
<line x1="741.5" y1="180" x2="741.5" y2="197" stroke="#000" stroke-width="1"/>
<rect x="740.5" y="181.5" width="2" height="6" fill="#9a3d3d" stroke="#000" stroke-width="1"/>
<line x1="744.5" y1="187" x2="744.5" y2="218" stroke="#000" stroke-width="1"/>
<rect x="743.5" y="187.5" width="2" height="20" fill="#9a3d3d" stroke="#000" stroke-width="1"/>
<line x1="747.5" y1="207" x2="747.5" y2="209" stroke="#000" stroke-width="1"/>
<rect x="746" y="207" width="3" height="1" fill="#000"/>
</g>
<g clip-path="url(#cb0)">
<text x="113.0" y="81.8" text-anchor="end" font-family='"Liberation Sans", sans-serif' font-size="13.2" letter-spacing="0.3" fill="#606060">63 000</text>
<text x="113.0" y="121.9" text-anchor="end" font-family='"Liberation Sans", sans-serif' font-size="13.2" letter-spacing="0.3" fill="#606060">62 500</text>
<text x="113.0" y="162.1" text-anchor="end" font-family='"Liberation Sans", sans-serif' font-size="13.2" letter-spacing="0.3" fill="#606060">62 000</text>
<text x="113.0" y="202.3" text-anchor="end" font-family='"Liberation Sans", sans-serif' font-size="13.2" letter-spacing="0.3" fill="#606060">61 500</text>
<text x="113.0" y="242.5" text-anchor="end" font-family='"Liberation Sans", sans-serif' font-size="13.2" letter-spacing="0.3" fill="#606060">61 000</text>
<text x="113.0" y="282.6" text-anchor="end" font-family='"Liberation Sans", sans-serif' font-size="13.2" letter-spacing="0.3" fill="#606060">60 500</text>
</g>
<text x="59.5" y="176.3" transform="rotate(-90 58.6 176.3)" text-anchor="middle" font-family='"Liberation Sans", sans-serif' font-size="12" letter-spacing="1.8" font-weight="bold" fill="#4d6d94">Цена</text>
<circle cx="479.3" cy="136.3" r="11.9" fill="#f35656" stroke="#111" stroke-width="1.4"/>
<path d="M481.7,132.4 L478.0,132.4 Q476.1,132.4 476.3,134.3 Q476.5,135.4 478.7,136.6 Q481.9,138.2 481.8,139.3 Q481.6,140.7 479.7,140.7 L475.7,140.7" fill="none" stroke="#fff" stroke-width="1.9"/>
<circle cx="659.6" cy="188.1" r="11.9" fill="#1a90ff" stroke="#111" stroke-width="1.4"/>
<text x="0" y="0" transform="translate(659.7,193.1) scale(0.82,1)" text-anchor="middle" font-family='"Liberation Sans", sans-serif' font-size="12.6" font-weight="bold" fill="#fff" stroke="#fff" stroke-width="0.7">B</text>
<defs><clipPath id="c1"><rect x="133.85" y="331.5" width="612.15" height="244.5"/></clipPath><clipPath id="cb1"><rect x="0" y="331.5" width="794" height="244.5"/></clipPath></defs>
<rect x="568" y="371.5" width="52.60000000000002" height="200.0" fill="#d2e6fc"/>
<line x1="133.85" y1="371.5" x2="746" y2="371.5" stroke="#3a5680" stroke-width="1.2" stroke-dasharray="4.4 3.3"/>
<line x1="133.85" y1="422.0" x2="746" y2="422.0" stroke="#3a5680" stroke-width="1.2" stroke-dasharray="4.4 3.3"/>
<line x1="133.85" y1="472.8" x2="746" y2="472.8" stroke="#3a5680" stroke-width="1.2" stroke-dasharray="4.4 3.3"/>
<line x1="133.85" y1="522.1" x2="746" y2="522.1" stroke="#3a5680" stroke-width="1.2" stroke-dasharray="4.4 3.3"/>
<line x1="133.85" y1="571.5" x2="746" y2="571.5" stroke="#3a5680" stroke-width="1.2" stroke-dasharray="4.4 3.3"/>
<line x1="149.1" y1="572.5" x2="149.1" y2="577.8" stroke="#cbd5e2" stroke-width="1.3" clip-path="url(#cb1)"/>
<line x1="192.1" y1="572.5" x2="192.1" y2="577.8" stroke="#cbd5e2" stroke-width="1.3" clip-path="url(#cb1)"/>
<line x1="234.8" y1="572.5" x2="234.8" y2="577.8" stroke="#cbd5e2" stroke-width="1.3" clip-path="url(#cb1)"/>
<line x1="278.1" y1="572.5" x2="278.1" y2="577.8" stroke="#cbd5e2" stroke-width="1.3" clip-path="url(#cb1)"/>
<line x1="309.8" y1="572.5" x2="309.8" y2="577.8" stroke="#cbd5e2" stroke-width="1.3" clip-path="url(#cb1)"/>
<line x1="352.5" y1="572.5" x2="352.5" y2="577.8" stroke="#cbd5e2" stroke-width="1.3" clip-path="url(#cb1)"/>
<line x1="395.3" y1="572.5" x2="395.3" y2="577.8" stroke="#cbd5e2" stroke-width="1.3" clip-path="url(#cb1)"/>
<line x1="438.5" y1="572.5" x2="438.5" y2="577.8" stroke="#cbd5e2" stroke-width="1.3" clip-path="url(#cb1)"/>
<line x1="481.4" y1="572.5" x2="481.4" y2="577.8" stroke="#cbd5e2" stroke-width="1.3" clip-path="url(#cb1)"/>
<line x1="514.6" y1="572.5" x2="514.6" y2="577.8" stroke="#cbd5e2" stroke-width="1.3" clip-path="url(#cb1)"/>
<line x1="567.4" y1="572.5" x2="567.4" y2="577.8" stroke="#cbd5e2" stroke-width="1.3" clip-path="url(#cb1)"/>
<line x1="610.4" y1="572.5" x2="610.4" y2="577.8" stroke="#cbd5e2" stroke-width="1.3" clip-path="url(#cb1)"/>
<line x1="653.4" y1="572.5" x2="653.4" y2="577.8" stroke="#cbd5e2" stroke-width="1.3" clip-path="url(#cb1)"/>
<line x1="696.3" y1="572.5" x2="696.3" y2="577.8" stroke="#cbd5e2" stroke-width="1.3" clip-path="url(#cb1)"/>
<line x1="738.9" y1="572.5" x2="738.9" y2="577.8" stroke="#cbd5e2" stroke-width="1.3" clip-path="url(#cb1)"/>
<line x1="133.85" y1="476.9" x2="746" y2="476.9" stroke="#e49a9e" stroke-width="1.8"/>
<line x1="133.85" y1="539.9" x2="746" y2="539.9" stroke="#4c96d6" stroke-width="1.5"/>
<line x1="567.5" y1="371.5" x2="567.5" y2="571.5" stroke="#c07a84" stroke-width="1.2"/>
<line x1="621.25" y1="371.5" x2="621.25" y2="571.5" stroke="#4a8ec8" stroke-width="1.5"/>
<line x1="133.85" y1="371.0" x2="133.85" y2="573.0" stroke="#637b9e" stroke-width="1.5"/>
<line x1="133.85" y1="572.5" x2="746" y2="572.5" stroke="#a9c1de" stroke-width="1"/>
<g clip-path="url(#c1)">
<line x1="139.5" y1="440" x2="139.5" y2="454" stroke="#000" stroke-width="1"/>
<rect x="137.5" y="448.5" width="4" height="2" fill="#80c337" stroke="#000" stroke-width="1"/>
<line x1="150.5" y1="440" x2="150.5" y2="456" stroke="#000" stroke-width="1"/>
<rect x="148" y="448" width="5" height="2" fill="#000"/>
<line x1="161.5" y1="442" x2="161.5" y2="450" stroke="#000" stroke-width="1"/>
<rect x="159" y="447" width="5" height="2" fill="#000"/>
<line x1="171.5" y1="440" x2="171.5" y2="448" stroke="#000" stroke-width="1"/>
<rect x="169.5" y="443.5" width="4" height="4" fill="#80c337" stroke="#000" stroke-width="1"/>
<line x1="182.5" y1="440" x2="182.5" y2="448" stroke="#000" stroke-width="1"/>
<rect x="180.5" y="443.5" width="4" height="2" fill="#f03c3c" stroke="#000" stroke-width="1"/>
<line x1="193.5" y1="445" x2="193.5" y2="451" stroke="#000" stroke-width="1"/>
<rect x="191.5" y="447.5" width="4" height="3" fill="#f03c3c" stroke="#000" stroke-width="1"/>
<line x1="203.5" y1="446" x2="203.5" y2="454" stroke="#000" stroke-width="1"/>
<rect x="201" y="449" width="5" height="2" fill="#000"/>
<line x1="214.5" y1="447" x2="214.5" y2="454" stroke="#000" stroke-width="1"/>
<rect x="212" y="449" width="5" height="1" fill="#000"/>
<line x1="225.5" y1="449" x2="225.5" y2="461" stroke="#000" stroke-width="1"/>
<rect x="223.5" y="449.5" width="4" height="7" fill="#f03c3c" stroke="#000" stroke-width="1"/>
<line x1="236.5" y1="449" x2="236.5" y2="460" stroke="#000" stroke-width="1"/>
<rect x="234.5" y="455.5" width="4" height="2" fill="#80c337" stroke="#000" stroke-width="1"/>
<line x1="246.5" y1="452" x2="246.5" y2="459" stroke="#000" stroke-width="1"/>
<rect x="244.5" y="454.5" width="4" height="2" fill="#80c337" stroke="#000" stroke-width="1"/>
<line x1="257.5" y1="438" x2="257.5" y2="454" stroke="#000" stroke-width="1"/>
<rect x="255.5" y="448.5" width="4" height="5" fill="#80c337" stroke="#000" stroke-width="1"/>
<line x1="268.5" y1="443" x2="268.5" y2="456" stroke="#000" stroke-width="1"/>
<rect x="266" y="447" width="5" height="1" fill="#000"/>
<line x1="279.5" y1="444" x2="279.5" y2="451" stroke="#000" stroke-width="1"/>
<rect x="277" y="446" width="5" height="1" fill="#000"/>
<line x1="289.5" y1="440" x2="289.5" y2="452" stroke="#000" stroke-width="1"/>
<rect x="287.5" y="446.5" width="4" height="4" fill="#f03c3c" stroke="#000" stroke-width="1"/>
<line x1="300.5" y1="445" x2="300.5" y2="453" stroke="#000" stroke-width="1"/>
<rect x="298" y="448" width="5" height="2" fill="#000"/>
<line x1="311.5" y1="438" x2="311.5" y2="451" stroke="#000" stroke-width="1"/>
<rect x="309.5" y="440.5" width="4" height="8" fill="#80c337" stroke="#000" stroke-width="1"/>
<line x1="322.5" y1="413" x2="322.5" y2="441" stroke="#000" stroke-width="1"/>
<rect x="320.5" y="418.5" width="4" height="22" fill="#80c337" stroke="#000" stroke-width="1"/>
<line x1="332.5" y1="416" x2="332.5" y2="426" stroke="#000" stroke-width="1"/>
<rect x="330.5" y="417.5" width="4" height="8" fill="#f03c3c" stroke="#000" stroke-width="1"/>
<line x1="343.5" y1="422" x2="343.5" y2="432" stroke="#000" stroke-width="1"/>
<rect x="341.5" y="425.5" width="4" height="5" fill="#f03c3c" stroke="#000" stroke-width="1"/>
<line x1="354.5" y1="425" x2="354.5" y2="432" stroke="#000" stroke-width="1"/>
<rect x="352" y="430" width="5" height="2" fill="#000"/>
<line x1="364.5" y1="427" x2="364.5" y2="441" stroke="#000" stroke-width="1"/>
<rect x="362.5" y="431.5" width="4" height="5" fill="#f03c3c" stroke="#000" stroke-width="1"/>
<line x1="375.5" y1="437" x2="375.5" y2="458" stroke="#000" stroke-width="1"/>
<rect x="373.5" y="438.5" width="4" height="19" fill="#f03c3c" stroke="#000" stroke-width="1"/>
<line x1="386.5" y1="455" x2="386.5" y2="461" stroke="#000" stroke-width="1"/>
<rect x="384" y="457" width="5" height="1" fill="#000"/>
<line x1="397.5" y1="450" x2="397.5" y2="458" stroke="#000" stroke-width="1"/>
<rect x="395.5" y="455.5" width="4" height="2" fill="#80c337" stroke="#000" stroke-width="1"/>
<line x1="407.5" y1="451" x2="407.5" y2="456" stroke="#000" stroke-width="1"/>
<rect x="405" y="453" width="5" height="1" fill="#000"/>
<rect x="416.5" y="452.5" width="4" height="7" fill="#f03c3c" stroke="#000" stroke-width="1"/>
<line x1="429.5" y1="454" x2="429.5" y2="461" stroke="#000" stroke-width="1"/>
<rect x="427.5" y="457.5" width="4" height="2" fill="#80c337" stroke="#000" stroke-width="1"/>
<line x1="440.5" y1="455" x2="440.5" y2="464" stroke="#000" stroke-width="1"/>
<rect x="438.5" y="458.5" width="4" height="4" fill="#f03c3c" stroke="#000" stroke-width="1"/>
<line x1="450.5" y1="460" x2="450.5" y2="478" stroke="#000" stroke-width="1"/>
<rect x="448.5" y="462.5" width="4" height="12" fill="#f03c3c" stroke="#000" stroke-width="1"/>
<line x1="461.5" y1="467" x2="461.5" y2="476" stroke="#000" stroke-width="1"/>
<rect x="459.5" y="471.5" width="4" height="3" fill="#80c337" stroke="#000" stroke-width="1"/>
<line x1="472.5" y1="468" x2="472.5" y2="474" stroke="#000" stroke-width="1"/>
<rect x="470" y="470" width="5" height="1" fill="#000"/>
<line x1="482.5" y1="468" x2="482.5" y2="477" stroke="#000" stroke-width="1"/>
<rect x="480.5" y="471.5" width="4" height="5" fill="#f03c3c" stroke="#000" stroke-width="1"/>
<line x1="493.5" y1="468" x2="493.5" y2="478" stroke="#000" stroke-width="1"/>
<rect x="491" y="475" width="5" height="1" fill="#000"/>
<line x1="504.5" y1="467" x2="504.5" y2="477" stroke="#000" stroke-width="1"/>
<rect x="502.5" y="470.5" width="4" height="5" fill="#80c337" stroke="#000" stroke-width="1"/>
<line x1="515.5" y1="462" x2="515.5" y2="471" stroke="#000" stroke-width="1"/>
<rect x="513" y="470" width="5" height="1" fill="#000"/>
<line x1="525.5" y1="431" x2="525.5" y2="466" stroke="#000" stroke-width="1"/>
<rect x="523.5" y="439.5" width="4" height="26" fill="#80c337" stroke="#000" stroke-width="1"/>
<line x1="536.5" y1="436" x2="536.5" y2="458" stroke="#000" stroke-width="1"/>
<rect x="534.5" y="439.5" width="4" height="16" fill="#f03c3c" stroke="#000" stroke-width="1"/>
<line x1="547.5" y1="450" x2="547.5" y2="464" stroke="#000" stroke-width="1"/>
<rect x="545.5" y="450.5" width="4" height="5" fill="#80c337" stroke="#000" stroke-width="1"/>
<line x1="558.5" y1="445" x2="558.5" y2="458" stroke="#000" stroke-width="1"/>
<rect x="556" y="450" width="5" height="1" fill="#000"/>
<line x1="568.5" y1="442" x2="568.5" y2="482" stroke="#000" stroke-width="1"/>
<rect x="566.5" y="450.5" width="4" height="26" fill="#f03c3c" stroke="#000" stroke-width="1"/>
<line x1="579.5" y1="461" x2="579.5" y2="489" stroke="#000" stroke-width="1"/>
<rect x="577.5" y="478.5" width="4" height="9" fill="#f03c3c" stroke="#000" stroke-width="1"/>
<line x1="590.5" y1="486" x2="590.5" y2="521" stroke="#000" stroke-width="1"/>
<rect x="588.5" y="488.5" width="4" height="31" fill="#f03c3c" stroke="#000" stroke-width="1"/>
<line x1="600.5" y1="510" x2="600.5" y2="527" stroke="#000" stroke-width="1"/>
<rect x="598.5" y="520.5" width="4" height="6" fill="#f03c3c" stroke="#000" stroke-width="1"/>
<line x1="611.5" y1="518" x2="611.5" y2="536" stroke="#000" stroke-width="1"/>
<rect x="609.5" y="526.5" width="4" height="8" fill="#f03c3c" stroke="#000" stroke-width="1"/>
<line x1="622.5" y1="523" x2="622.5" y2="546" stroke="#000" stroke-width="1"/>
<rect x="620.5" y="527.5" width="4" height="7" fill="#80c337" stroke="#000" stroke-width="1"/>
<line x1="633.5" y1="524" x2="633.5" y2="549" stroke="#000" stroke-width="1"/>
<rect x="631.5" y="529.5" width="4" height="10" fill="#f03c3c" stroke="#000" stroke-width="1"/>
<line x1="643.5" y1="537" x2="643.5" y2="556" stroke="#000" stroke-width="1"/>
<rect x="641.5" y="540.5" width="4" height="14" fill="#f03c3c" stroke="#000" stroke-width="1"/>
<line x1="654.5" y1="535" x2="654.5" y2="556" stroke="#000" stroke-width="1"/>
<rect x="652.5" y="541.5" width="4" height="14" fill="#80c337" stroke="#000" stroke-width="1"/>
<line x1="665.5" y1="535" x2="665.5" y2="548" stroke="#000" stroke-width="1"/>
<rect x="663.5" y="536.5" width="4" height="3" fill="#80c337" stroke="#000" stroke-width="1"/>
<line x1="676.5" y1="534" x2="676.5" y2="544" stroke="#000" stroke-width="1"/>
<rect x="674.5" y="536.5" width="4" height="3" fill="#f03c3c" stroke="#000" stroke-width="1"/>
<line x1="686.5" y1="538" x2="686.5" y2="544" stroke="#000" stroke-width="1"/>
<rect x="684.5" y="539.5" width="4" height="3" fill="#f03c3c" stroke="#000" stroke-width="1"/>
<line x1="697.5" y1="528" x2="697.5" y2="542" stroke="#000" stroke-width="1"/>
<rect x="695.5" y="536.5" width="4" height="5" fill="#80c337" stroke="#000" stroke-width="1"/>
<rect x="706.5" y="526.5" width="4" height="9" fill="#80c337" stroke="#000" stroke-width="1"/>
<line x1="719.5" y1="519" x2="719.5" y2="527" stroke="#000" stroke-width="1"/>
<rect x="717.5" y="523.5" width="4" height="3" fill="#80c337" stroke="#000" stroke-width="1"/>
<line x1="729.5" y1="522" x2="729.5" y2="541" stroke="#000" stroke-width="1"/>
<rect x="727.5" y="523.5" width="4" height="10" fill="#f03c3c" stroke="#000" stroke-width="1"/>
<line x1="740.5" y1="526" x2="740.5" y2="536" stroke="#000" stroke-width="1"/>
<rect x="738.5" y="528.5" width="4" height="6" fill="#80c337" stroke="#000" stroke-width="1"/>
</g>
<g clip-path="url(#cb1)">
<text x="124.7" y="376.9" text-anchor="end" font-family='"Liberation Sans", sans-serif' font-size="13.2" letter-spacing="0.3" fill="#606060">117 000</text>
<text x="124.7" y="427.2" text-anchor="end" font-family='"Liberation Sans", sans-serif' font-size="13.2" letter-spacing="0.3" fill="#606060">116 000</text>
<text x="124.7" y="477.4" text-anchor="end" font-family='"Liberation Sans", sans-serif' font-size="13.2" letter-spacing="0.3" fill="#606060">115 000</text>
<text x="124.7" y="527.7" text-anchor="end" font-family='"Liberation Sans", sans-serif' font-size="13.2" letter-spacing="0.3" fill="#606060">114 000</text>
<text x="124.7" y="578.0" text-anchor="end" font-family='"Liberation Sans", sans-serif' font-size="13.2" letter-spacing="0.3" fill="#606060">113 000</text>
</g>
<text x="63.699999999999996" y="471.4" transform="rotate(-90 62.8 471.4)" text-anchor="middle" font-family='"Liberation Sans", sans-serif' font-size="12" letter-spacing="1.8" font-weight="bold" fill="#4d6d94">Цена</text>
<circle cx="569.1" cy="421" r="11.9" fill="#f35656" stroke="#111" stroke-width="1.4"/>
<path d="M571.5,417.1 L567.8,417.1 Q565.9,417.1 566.1,419.0 Q566.3,420.1 568.5,421.3 Q571.7,422.9 571.6,424.0 Q571.4,425.4 569.5,425.4 L565.5,425.4" fill="none" stroke="#fff" stroke-width="1.9"/>
<circle cx="622.9" cy="501.4" r="11.9" fill="#1a90ff" stroke="#111" stroke-width="1.4"/>
<text x="0" y="0" transform="translate(623.0,506.4) scale(0.82,1)" text-anchor="middle" font-family='"Liberation Sans", sans-serif' font-size="12.6" font-weight="bold" fill="#fff" stroke="#fff" stroke-width="0.7">B</text>
<defs><clipPath id="c2"><rect x="69.7" y="625.5" width="703.1999999999999" height="241.5"/></clipPath><clipPath id="cb2"><rect x="0" y="625.5" width="794" height="241.5"/></clipPath></defs>
<rect x="479.5" y="665.5" width="230.70000000000005" height="200.0" fill="#d2e6fc"/>
<line x1="69.7" y1="665.5" x2="772.9" y2="665.5" stroke="#3a5680" stroke-width="1.2" stroke-dasharray="4.4 3.3"/>
<line x1="69.7" y1="715.9" x2="772.9" y2="715.9" stroke="#3a5680" stroke-width="1.2" stroke-dasharray="4.4 3.3"/>
<line x1="69.7" y1="766.7" x2="772.9" y2="766.7" stroke="#3a5680" stroke-width="1.2" stroke-dasharray="4.4 3.3"/>
<line x1="69.7" y1="816.2" x2="772.9" y2="816.2" stroke="#3a5680" stroke-width="1.2" stroke-dasharray="4.4 3.3"/>
<line x1="69.7" y1="865.5" x2="772.9" y2="865.5" stroke="#3a5680" stroke-width="1.2" stroke-dasharray="4.4 3.3"/>
<line x1="69.7" y1="712.8" x2="772.9" y2="712.8" stroke="#e49a9e" stroke-width="1.8"/>
<line x1="69.7" y1="784.2" x2="772.9" y2="784.2" stroke="#3a80b8" stroke-width="1.4"/>
<line x1="710.9" y1="665.5" x2="710.9" y2="865.5" stroke="#d08890" stroke-width="1.6"/>
<line x1="479.0" y1="665.5" x2="479.0" y2="865.5" stroke="#6aaae6" stroke-width="1.8"/>
<line x1="69.7" y1="665.0" x2="69.7" y2="867.0" stroke="#4a5f80" stroke-width="1.4"/>
<line x1="69.7" y1="866.5" x2="772.9" y2="866.5" stroke="#a9c1de" stroke-width="1"/>
<g clip-path="url(#c2)">
<line x1="76.5" y1="784" x2="76.5" y2="787" stroke="#000" stroke-width="1"/>
<rect x="74" y="786" width="5" height="1" fill="#000"/>
<line x1="85.5" y1="784" x2="85.5" y2="787" stroke="#000" stroke-width="1"/>
<rect x="83" y="786" width="5" height="1" fill="#000"/>
<rect x="91" y="784" width="5" height="1" fill="#000"/>
<rect x="100" y="783" width="5" height="2" fill="#000"/>
<line x1="111.5" y1="784" x2="111.5" y2="790" stroke="#000" stroke-width="1"/>
<rect x="109.5" y="786.5" width="4" height="3" fill="#f03c3c" stroke="#000" stroke-width="1"/>
<line x1="119.5" y1="783" x2="119.5" y2="794" stroke="#000" stroke-width="1"/>
<rect x="117.5" y="789.5" width="4" height="4" fill="#f03c3c" stroke="#000" stroke-width="1"/>
<line x1="128.5" y1="786" x2="128.5" y2="794" stroke="#000" stroke-width="1"/>
<rect x="126" y="793" width="5" height="1" fill="#000"/>
<line x1="136.5" y1="791" x2="136.5" y2="798" stroke="#000" stroke-width="1"/>
<rect x="134.5" y="794.5" width="4" height="2" fill="#f03c3c" stroke="#000" stroke-width="1"/>
<line x1="145.5" y1="790" x2="145.5" y2="796" stroke="#000" stroke-width="1"/>
<rect x="143.5" y="791.5" width="4" height="4" fill="#80c337" stroke="#000" stroke-width="1"/>
<line x1="154.5" y1="787" x2="154.5" y2="792" stroke="#000" stroke-width="1"/>
<rect x="152.5" y="788.5" width="4" height="2" fill="#80c337" stroke="#000" stroke-width="1"/>
<line x1="162.5" y1="787" x2="162.5" y2="794" stroke="#000" stroke-width="1"/>
<rect x="160.5" y="790.5" width="4" height="2" fill="#f03c3c" stroke="#000" stroke-width="1"/>
<line x1="171.5" y1="790" x2="171.5" y2="795" stroke="#000" stroke-width="1"/>
<rect x="169.5" y="791.5" width="4" height="2" fill="#80c337" stroke="#000" stroke-width="1"/>
<line x1="179.5" y1="788" x2="179.5" y2="794" stroke="#000" stroke-width="1"/>
<rect x="177.5" y="788.5" width="4" height="2" fill="#80c337" stroke="#000" stroke-width="1"/>
<line x1="188.5" y1="784" x2="188.5" y2="789" stroke="#000" stroke-width="1"/>
<rect x="186.5" y="785.5" width="4" height="2" fill="#80c337" stroke="#000" stroke-width="1"/>
<line x1="196.5" y1="779" x2="196.5" y2="786" stroke="#000" stroke-width="1"/>
<rect x="194" y="784" width="5" height="2" fill="#000"/>
<line x1="205.5" y1="781" x2="205.5" y2="790" stroke="#000" stroke-width="1"/>
<rect x="203" y="786" width="5" height="1" fill="#000"/>
<line x1="214.5" y1="781" x2="214.5" y2="792" stroke="#000" stroke-width="1"/>
<rect x="212.5" y="784.5" width="4" height="7" fill="#f03c3c" stroke="#000" stroke-width="1"/>
<line x1="222.5" y1="787" x2="222.5" y2="796" stroke="#000" stroke-width="1"/>
<rect x="220.5" y="792.5" width="4" height="3" fill="#f03c3c" stroke="#000" stroke-width="1"/>
<line x1="231.5" y1="791" x2="231.5" y2="801" stroke="#000" stroke-width="1"/>
<rect x="229" y="795" width="5" height="1" fill="#000"/>
<line x1="239.5" y1="788" x2="239.5" y2="808" stroke="#000" stroke-width="1"/>
<rect x="237.5" y="795.5" width="4" height="11" fill="#f03c3c" stroke="#000" stroke-width="1"/>
<line x1="248.5" y1="804" x2="248.5" y2="814" stroke="#000" stroke-width="1"/>
<rect x="246.5" y="807.5" width="4" height="2" fill="#f03c3c" stroke="#000" stroke-width="1"/>
<line x1="257.5" y1="806" x2="257.5" y2="812" stroke="#000" stroke-width="1"/>
<rect x="255.5" y="807.5" width="4" height="2" fill="#80c337" stroke="#000" stroke-width="1"/>
<line x1="265.5" y1="804" x2="265.5" y2="810" stroke="#000" stroke-width="1"/>
<rect x="263" y="806" width="5" height="1" fill="#000"/>
<line x1="274.5" y1="801" x2="274.5" y2="808" stroke="#000" stroke-width="1"/>
<rect x="272" y="806" width="5" height="2" fill="#000"/>
<line x1="282.5" y1="802" x2="282.5" y2="808" stroke="#000" stroke-width="1"/>
<rect x="280.5" y="803.5" width="4" height="2" fill="#80c337" stroke="#000" stroke-width="1"/>
<line x1="291.5" y1="803" x2="291.5" y2="808" stroke="#000" stroke-width="1"/>
<rect x="289" y="803" width="5" height="1" fill="#000"/>
<line x1="300.5" y1="799" x2="300.5" y2="813" stroke="#000" stroke-width="1"/>
<rect x="298.5" y="803.5" width="4" height="4" fill="#f03c3c" stroke="#000" stroke-width="1"/>
<line x1="308.5" y1="805" x2="308.5" y2="812" stroke="#000" stroke-width="1"/>
<rect x="306" y="807" width="5" height="1" fill="#000"/>
<line x1="317.5" y1="802" x2="317.5" y2="807" stroke="#000" stroke-width="1"/>
<rect x="315.5" y="804.5" width="4" height="2" fill="#80c337" stroke="#000" stroke-width="1"/>
<line x1="325.5" y1="802" x2="325.5" y2="811" stroke="#000" stroke-width="1"/>
<rect x="323.5" y="803.5" width="4" height="6" fill="#f03c3c" stroke="#000" stroke-width="1"/>
<line x1="334.5" y1="808" x2="334.5" y2="811" stroke="#000" stroke-width="1"/>
<rect x="332" y="810" width="5" height="1" fill="#000"/>
<line x1="342.5" y1="807" x2="342.5" y2="811" stroke="#000" stroke-width="1"/>
<rect x="340.5" y="807.5" width="4" height="2" fill="#80c337" stroke="#000" stroke-width="1"/>
<line x1="351.5" y1="811" x2="351.5" y2="821" stroke="#000" stroke-width="1"/>
<rect x="349.5" y="812.5" width="4" height="5" fill="#f03c3c" stroke="#000" stroke-width="1"/>
<line x1="360.5" y1="818" x2="360.5" y2="828" stroke="#000" stroke-width="1"/>
<rect x="358.5" y="818.5" width="4" height="8" fill="#f03c3c" stroke="#000" stroke-width="1"/>
<line x1="368.5" y1="820" x2="368.5" y2="829" stroke="#000" stroke-width="1"/>
<rect x="366.5" y="823.5" width="4" height="2" fill="#80c337" stroke="#000" stroke-width="1"/>
<line x1="377.5" y1="818" x2="377.5" y2="824" stroke="#000" stroke-width="1"/>
<rect x="375.5" y="819.5" width="4" height="4" fill="#80c337" stroke="#000" stroke-width="1"/>
<line x1="385.5" y1="814" x2="385.5" y2="819" stroke="#000" stroke-width="1"/>
<rect x="383.5" y="816.5" width="4" height="2" fill="#80c337" stroke="#000" stroke-width="1"/>
<line x1="394.5" y1="812" x2="394.5" y2="819" stroke="#000" stroke-width="1"/>
<rect x="392.5" y="813.5" width="4" height="4" fill="#80c337" stroke="#000" stroke-width="1"/>
<line x1="403.5" y1="797" x2="403.5" y2="814" stroke="#000" stroke-width="1"/>
<rect x="401.5" y="801.5" width="4" height="12" fill="#80c337" stroke="#000" stroke-width="1"/>
<line x1="411.5" y1="791" x2="411.5" y2="802" stroke="#000" stroke-width="1"/>
<rect x="409.5" y="796.5" width="4" height="3" fill="#80c337" stroke="#000" stroke-width="1"/>
<line x1="420.5" y1="795" x2="420.5" y2="799" stroke="#000" stroke-width="1"/>
<rect x="418" y="797" width="5" height="1" fill="#000"/>
<line x1="428.5" y1="792" x2="428.5" y2="799" stroke="#000" stroke-width="1"/>
<rect x="426.5" y="795.5" width="4" height="2" fill="#80c337" stroke="#000" stroke-width="1"/>
<line x1="437.5" y1="786" x2="437.5" y2="796" stroke="#000" stroke-width="1"/>
<rect x="435.5" y="790.5" width="4" height="4" fill="#80c337" stroke="#000" stroke-width="1"/>
<line x1="446.5" y1="788" x2="446.5" y2="795" stroke="#000" stroke-width="1"/>
<rect x="444.5" y="790.5" width="4" height="3" fill="#f03c3c" stroke="#000" stroke-width="1"/>
<line x1="454.5" y1="782" x2="454.5" y2="794" stroke="#000" stroke-width="1"/>
<rect x="452.5" y="785.5" width="4" height="7" fill="#80c337" stroke="#000" stroke-width="1"/>
<line x1="463.5" y1="783" x2="463.5" y2="790" stroke="#000" stroke-width="1"/>
<rect x="461" y="784" width="5" height="1" fill="#000"/>
<line x1="471.5" y1="784" x2="471.5" y2="791" stroke="#000" stroke-width="1"/>
<rect x="469.5" y="785.5" width="4" height="5" fill="#f03c3c" stroke="#000" stroke-width="1"/>
<line x1="480.5" y1="777" x2="480.5" y2="791" stroke="#000" stroke-width="1"/>
<rect x="478.5" y="780.5" width="4" height="10" fill="#80c337" stroke="#000" stroke-width="1"/>
<line x1="489.5" y1="763" x2="489.5" y2="780" stroke="#000" stroke-width="1"/>
<rect x="487.5" y="766.5" width="4" height="13" fill="#80c337" stroke="#000" stroke-width="1"/>
<line x1="497.5" y1="761" x2="497.5" y2="769" stroke="#000" stroke-width="1"/>
<rect x="495.5" y="763.5" width="4" height="5" fill="#f03c3c" stroke="#000" stroke-width="1"/>
<line x1="506.5" y1="754" x2="506.5" y2="766" stroke="#000" stroke-width="1"/>
<rect x="504.5" y="760.5" width="4" height="4" fill="#80c337" stroke="#000" stroke-width="1"/>
<line x1="514.5" y1="754" x2="514.5" y2="760" stroke="#000" stroke-width="1"/>
<rect x="512" y="758" width="5" height="2" fill="#000"/>
<line x1="523.5" y1="757" x2="523.5" y2="762" stroke="#000" stroke-width="1"/>
<rect x="521.5" y="758.5" width="4" height="3" fill="#f03c3c" stroke="#000" stroke-width="1"/>
<line x1="531.5" y1="760" x2="531.5" y2="764" stroke="#000" stroke-width="1"/>
<rect x="529.5" y="760.5" width="4" height="2" fill="#80c337" stroke="#000" stroke-width="1"/>
<line x1="540.5" y1="753" x2="540.5" y2="761" stroke="#000" stroke-width="1"/>
<rect x="538" y="760" width="5" height="1" fill="#000"/>
<line x1="549.5" y1="756" x2="549.5" y2="763" stroke="#000" stroke-width="1"/>
<rect x="547.5" y="757.5" width="4" height="2" fill="#80c337" stroke="#000" stroke-width="1"/>
<line x1="557.5" y1="756" x2="557.5" y2="760" stroke="#000" stroke-width="1"/>
<rect x="555.5" y="757.5" width="4" height="2" fill="#f03c3c" stroke="#000" stroke-width="1"/>
<line x1="566.5" y1="758" x2="566.5" y2="760" stroke="#000" stroke-width="1"/>
<rect x="564" y="759" width="5" height="1" fill="#000"/>
<line x1="574.5" y1="753" x2="574.5" y2="760" stroke="#000" stroke-width="1"/>
<rect x="572.5" y="754.5" width="4" height="5" fill="#80c337" stroke="#000" stroke-width="1"/>
<line x1="583.5" y1="746" x2="583.5" y2="760" stroke="#000" stroke-width="1"/>
<rect x="581.5" y="751.5" width="4" height="2" fill="#80c337" stroke="#000" stroke-width="1"/>
<line x1="592.5" y1="733" x2="592.5" y2="752" stroke="#000" stroke-width="1"/>
<rect x="590.5" y="740.5" width="4" height="10" fill="#80c337" stroke="#000" stroke-width="1"/>
<line x1="600.5" y1="732" x2="600.5" y2="741" stroke="#000" stroke-width="1"/>
<rect x="598.5" y="732.5" width="4" height="7" fill="#80c337" stroke="#000" stroke-width="1"/>
<line x1="609.5" y1="726" x2="609.5" y2="737" stroke="#000" stroke-width="1"/>
<rect x="607.5" y="729.5" width="4" height="4" fill="#80c337" stroke="#000" stroke-width="1"/>
<line x1="617.5" y1="727" x2="617.5" y2="733" stroke="#000" stroke-width="1"/>
<rect x="615" y="730" width="5" height="1" fill="#000"/>
<line x1="626.5" y1="720" x2="626.5" y2="730" stroke="#000" stroke-width="1"/>
<rect x="624.5" y="723.5" width="4" height="6" fill="#80c337" stroke="#000" stroke-width="1"/>
<line x1="635.5" y1="720" x2="635.5" y2="727" stroke="#000" stroke-width="1"/>
<rect x="633.5" y="723.5" width="4" height="2" fill="#f03c3c" stroke="#000" stroke-width="1"/>
<rect x="641.5" y="724.5" width="4" height="9" fill="#f03c3c" stroke="#000" stroke-width="1"/>
<line x1="652.5" y1="731" x2="652.5" y2="737" stroke="#000" stroke-width="1"/>
<rect x="650.5" y="733.5" width="4" height="3" fill="#f03c3c" stroke="#000" stroke-width="1"/>
<line x1="660.5" y1="729" x2="660.5" y2="736" stroke="#000" stroke-width="1"/>
<rect x="658.5" y="731.5" width="4" height="4" fill="#80c337" stroke="#000" stroke-width="1"/>
<line x1="669.5" y1="723" x2="669.5" y2="730" stroke="#000" stroke-width="1"/>
<rect x="667.5" y="726.5" width="4" height="3" fill="#80c337" stroke="#000" stroke-width="1"/>
<line x1="678.5" y1="718" x2="678.5" y2="727" stroke="#000" stroke-width="1"/>
<rect x="676.5" y="722.5" width="4" height="2" fill="#80c337" stroke="#000" stroke-width="1"/>
<line x1="686.5" y1="720" x2="686.5" y2="726" stroke="#000" stroke-width="1"/>
<rect x="684.5" y="720.5" width="4" height="3" fill="#f03c3c" stroke="#000" stroke-width="1"/>
<line x1="695.5" y1="720" x2="695.5" y2="726" stroke="#000" stroke-width="1"/>
<rect x="693.5" y="722.5" width="4" height="2" fill="#f03c3c" stroke="#000" stroke-width="1"/>
<line x1="703.5" y1="716" x2="703.5" y2="724" stroke="#000" stroke-width="1"/>
<rect x="701.5" y="719.5" width="4" height="4" fill="#80c337" stroke="#000" stroke-width="1"/>
<line x1="712.5" y1="712" x2="712.5" y2="721" stroke="#000" stroke-width="1"/>
<rect x="710" y="720" width="5" height="1" fill="#000"/>
<line x1="720.5" y1="721" x2="720.5" y2="753" stroke="#000" stroke-width="1"/>
<rect x="718.5" y="722.5" width="4" height="19" fill="#f03c3c" stroke="#000" stroke-width="1"/>
<line x1="729.5" y1="741" x2="729.5" y2="762" stroke="#000" stroke-width="1"/>
<rect x="727.5" y="742.5" width="4" height="5" fill="#f03c3c" stroke="#000" stroke-width="1"/>
<line x1="738.5" y1="743" x2="738.5" y2="753" stroke="#000" stroke-width="1"/>
<rect x="736" y="747" width="5" height="1" fill="#000"/>
<line x1="746.5" y1="738" x2="746.5" y2="747" stroke="#000" stroke-width="1"/>
<rect x="744" y="742" width="5" height="2" fill="#000"/>
<line x1="755.5" y1="742" x2="755.5" y2="750" stroke="#000" stroke-width="1"/>
<rect x="753.5" y="742.5" width="4" height="5" fill="#f03c3c" stroke="#000" stroke-width="1"/>
<line x1="763.5" y1="744" x2="763.5" y2="750" stroke="#000" stroke-width="1"/>
<rect x="761.5" y="744.5" width="4" height="3" fill="#80c337" stroke="#000" stroke-width="1"/>
<line x1="772.5" y1="743" x2="772.5" y2="751" stroke="#000" stroke-width="1"/>
<rect x="770.5" y="744.5" width="4" height="3" fill="#f03c3c" stroke="#000" stroke-width="1"/>
</g>
<g clip-path="url(#cb2)">
<text x="60.5" y="671.3" text-anchor="end" font-family='"Liberation Sans", sans-serif' font-size="13.2" letter-spacing="0.3" fill="#606060">56</text>
<text x="60.5" y="721.5" text-anchor="end" font-family='"Liberation Sans", sans-serif' font-size="13.2" letter-spacing="0.3" fill="#606060">55</text>
<text x="60.5" y="771.6" text-anchor="end" font-family='"Liberation Sans", sans-serif' font-size="13.2" letter-spacing="0.3" fill="#606060">54</text>
<text x="60.5" y="821.8" text-anchor="end" font-family='"Liberation Sans", sans-serif' font-size="13.2" letter-spacing="0.3" fill="#606060">53</text>
<text x="60.5" y="872.0" text-anchor="end" font-family='"Liberation Sans", sans-serif' font-size="13.2" letter-spacing="0.3" fill="#606060">52</text>
</g>
<text x="35.1" y="765.2" transform="rotate(-90 34.2 765.2)" text-anchor="middle" font-family='"Liberation Sans", sans-serif' font-size="12" letter-spacing="1.8" font-weight="bold" fill="#4d6d94">Цена</text>
<circle cx="712.6" cy="691.2" r="11.9" fill="#f35656" stroke="#111" stroke-width="1.4"/>
<path d="M715.0,687.3 L711.3,687.3 Q709.4,687.3 709.6,689.2 Q709.8,690.3 712.0,691.5 Q715.2,693.1 715.1,694.2 Q714.9,695.6 713.0,695.6 L709.0,695.6" fill="none" stroke="#fff" stroke-width="1.9"/>
<circle cx="480.4" cy="757" r="11.9" fill="#1a90ff" stroke="#111" stroke-width="1.4"/>
<text x="0" y="0" transform="translate(480.5,762.0) scale(0.82,1)" text-anchor="middle" font-family='"Liberation Sans", sans-serif' font-size="12.6" font-weight="bold" fill="#fff" stroke="#fff" stroke-width="0.7">B</text>
</svg>
<div class="ttl" style="left:244.4px;top:51px;width:373.4px;height:34px">Фьючерс на валютную пару USDRUB (Si)</div>
<div class="ttl" style="left:302px;top:347px;width:262.70000000000005px;height:34px">Фьючерс на индекс РТС (Ri)</div>
<div class="ttl" style="left:306px;top:648px;width:229.5px;height:34px">Фьючерс на нефть Brent</div>
</body></html>
